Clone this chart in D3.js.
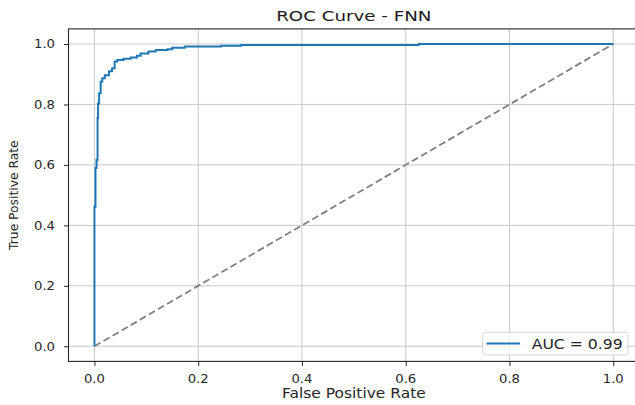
<!DOCTYPE html>
<html>
<head>
<meta charset="utf-8">
<script src="https://cdn.jsdelivr.net/npm/d3@7"></script>
<style>
  html, body { margin: 0; padding: 0; background: #fff; }
  svg { display: block; font-family: "DejaVu Sans", sans-serif; }
</style>
</head>
<body>
<svg id="chart" width="635" height="405"></svg>
<script>
// ---- data ----
const title = "ROC Curve - FNN";
const xLabel = "False Positive Rate";
const yLabel = "True Positive Rate";
const legendLabel = "AUC = 0.99";

// ROC points: at fpr[i] the curve rises to tpr[i]
const fpr = [0, 0, 0.002, 0.004, 0.006, 0.007, 0.009, 0.012, 0.015, 0.020, 0.028, 0.034, 0.039, 0.044,
             0.056, 0.070, 0.082, 0.089, 0.104, 0.118, 0.141, 0.150, 0.174, 0.244, 0.283, 0.625, 1.0];
const tpr = [0, 0.462, 0.590, 0.616, 0.755, 0.804, 0.837, 0.875, 0.887, 0.897, 0.910, 0.920, 0.942, 0.947,
             0.951, 0.955, 0.961, 0.969, 0.975, 0.980, 0.983, 0.988, 0.992, 0.994, 0.997, 1.0, 1.0];

const diagX = [0, 1];
const diagY = [0, 1];

const xTicks = [0, 0.2, 0.4, 0.6, 0.8, 1.0];
const xTickLabels = ["0.0", "0.2", "0.4", "0.6", "0.8", "1.0"];
const yTicks = [0, 0.2, 0.4, 0.6, 0.8, 1.0];
const yTickLabels = ["0.0", "0.2", "0.4", "0.6", "0.8", "1.0"];

// ---- layout ----
const svg = d3.select("#chart");
const pL = 68.5, pR = 639.2, pT = 28.9, pB = 361.4;

const x = d3.scaleLinear().domain([-0.05, 1.05]).range([pL, pR]);
const y = d3.scaleLinear().domain([-0.05, 1.05]).range([pB, pT]);

// helper for horizontally stretched text
function stext(g, tx, ty, str, size, sx, anchor, fill) {
  return g.append("text")
    .attr("transform", `translate(${tx},${ty}) scale(${sx},1)`)
    .attr("text-anchor", anchor)
    .attr("font-size", size)
    .attr("fill", fill || "#262626")
    .text(str);
}

// grid
const grid = svg.append("g");
grid.selectAll("line.vx").data(xTicks).join("line")
  .attr("class", "vx")
  .attr("x1", d => x(d)).attr("x2", d => x(d))
  .attr("y1", pT).attr("y2", pB)
  .attr("stroke", "#c8c8c8").attr("stroke-width", 1);
grid.selectAll("line.hy").data(yTicks).join("line")
  .attr("class", "hy")
  .attr("y1", d => y(d)).attr("y2", d => y(d))
  .attr("x1", pL).attr("x2", pR)
  .attr("stroke", "#c8c8c8").attr("stroke-width", 1);

// diagonal
const line = d3.line().x(d => x(d[0])).y(d => y(d[1]));
svg.append("path")
  .datum(diagX.map((v, i) => [v, diagY[i]]))
  .attr("d", line)
  .attr("fill", "none")
  .attr("stroke", "#808080")
  .attr("stroke-width", 1.8)
  .attr("stroke-dasharray", "7,3.5");

// ROC curve
const stepLine = d3.line().x(d => x(d[0])).y(d => y(d[1])).curve(d3.curveStepAfter);
svg.append("path")
  .datum(fpr.map((v, i) => [v, tpr[i]]))
  .attr("d", stepLine)
  .attr("fill", "none")
  .attr("stroke", "#1f77b4")
  .attr("stroke-width", 2);

// axes ticks
const xAxis = d3.axisBottom(x).tickValues(xTicks).tickSize(4.5).tickFormat("");
const yAxis = d3.axisLeft(y).tickValues(yTicks).tickSize(4.5).tickFormat("");
const gx = svg.append("g").attr("transform", `translate(0,${pB})`).call(xAxis);
const gy = svg.append("g").attr("transform", `translate(${pL},0)`).call(yAxis);
[gx, gy].forEach(g => {
  g.select(".domain").remove();
  g.selectAll(".tick line").attr("stroke", "#262626").attr("stroke-width", 1);
});

// frame
svg.append("rect")
  .attr("x", pL).attr("y", pT)
  .attr("width", pR - pL).attr("height", pB - pT)
  .attr("fill", "none").attr("stroke", "#262626").attr("stroke-width", 1.1);

// tick labels
const labels = svg.append("g");
xTicks.forEach((t, i) => stext(labels, x(t), 383.3, xTickLabels[i], 12, 1.1, "middle"));
yTicks.forEach((t, i) => stext(labels, 55, y(t) + 4.4, yTickLabels[i], 12, 1.1, "end"));

// axis labels
stext(svg, (pL + pR) / 2, 398.3, xLabel, 13.7, 1.13, "middle");
svg.append("text")
  .attr("transform", `translate(18.3,${(pT + pB) / 2}) rotate(-90)`)
  .attr("text-anchor", "middle")
  .attr("font-size", 12.3)
  .attr("fill", "#262626")
  .text(yLabel);

// title
stext(svg, (pL + pR) / 2, 20.7, title, 14.6, 1.25, "middle", "#1a1a1a");

// legend
const lg = svg.append("g");
lg.append("rect")
  .attr("x", 482.7).attr("y", 332.3).attr("width", 145.3).attr("height", 22.7)
  .attr("rx", 3).attr("fill", "#fff").attr("fill-opacity", 0.8)
  .attr("stroke", "#d5d5d5").attr("stroke-width", 1);
lg.append("line")
  .attr("x1", 486.5).attr("x2", 520).attr("y1", 343.5).attr("y2", 343.5)
  .attr("stroke", "#1f77b4").attr("stroke-width", 2);
stext(lg, 531.7, 348.5, legendLabel, 13.5, 1.16, "start");
</script>
</body>
</html>
